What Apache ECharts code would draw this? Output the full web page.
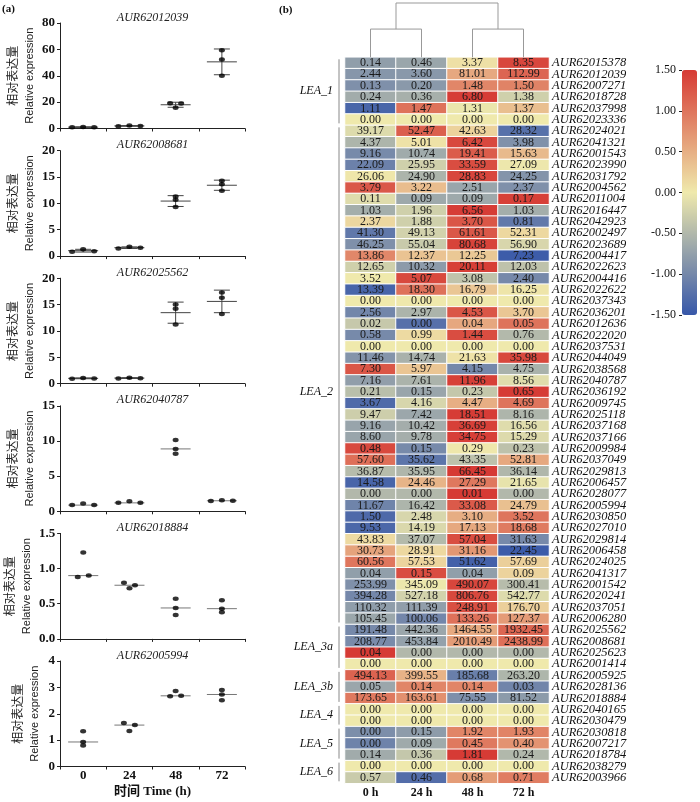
<!DOCTYPE html>
<html><head><meta charset="utf-8">
<script src="https://cdn.jsdelivr.net/npm/echarts@6/dist/echarts.min.js"></script>
<style>html,body{margin:0;padding:0;background:#fff}#c{width:700px;height:802px}</style>
</head><body><div id="c"></div>
<script>
// ---------- Panel (a): qRT-PCR replicate data ----------
const timeLabels = ['0', '24', '48', '72'];
const panelGenes = ['AUR62012039', 'AUR62008681', 'AUR62025562', 'AUR62040787', 'AUR62018884', 'AUR62005994'];
const panelYMax = [80, 20, 20, 15, 1.5, 4];
const panelYStep = [20, 5, 5, 5, 0.5, 1];
const panelYDecimals = [0, 0, 0, 0, 1, 0];
const panelCentre = ['mean', 'mean', 'mean', 'median', 'median', 'median'];
const rep_AUR62012039 = [[1.0, 1.2, 0.9], [1.8, 2.2, 1.9], [19.2, 15.8, 19.0], [59.3, 52.3, 40.0]];
const rep_AUR62008681 = [[0.82, 1.32, 0.94], [1.45, 1.76, 1.57], [11.3, 10.7, 9.3], [14.3, 13.6, 12.4]];
const rep_AUR62025562 = [[0.95, 1.1, 1.0], [1.0, 1.15, 1.05], [15.0, 14.2, 11.2], [17.3, 16.3, 13.2]];
const rep_AUR62040787 = [[0.88, 1.12, 0.88], [1.2, 1.42, 1.2], [10.14, 8.87, 8.2], [1.48, 1.58, 1.5]];
const rep_AUR62018884 = [[0.88, 1.23, 0.90], [0.80, 0.72, 0.763], [0.57, 0.44, 0.34], [0.55, 0.43, 0.38]];
const rep_AUR62005994 = [[1.34, 0.93, 0.80], [1.65, 1.35, 1.57], [2.66, 2.86, 2.68], [2.9, 2.73, 2.51]];

// ---------- Panel (b): heatmap data ----------
const heatCols = ['0 h', '24 h', '48 h', '72 h'];
const heatGenes = ['AUR62015378','AUR62012039','AUR62007271','AUR62018728','AUR62037998','AUR62023336','AUR62024021','AUR62041321','AUR62001543','AUR62023990','AUR62031792','AUR62004562','AUR62011004','AUR62016447','AUR62042923','AUR62002497','AUR62023689','AUR62004417','AUR62022623','AUR62004416','AUR62022622','AUR62037343','AUR62036201','AUR62012636','AUR62022020','AUR62037531','AUR62044049','AUR62038568','AUR62040787','AUR62036192','AUR62009745','AUR62025118','AUR62037168','AUR62037166','AUR62009984','AUR62037049','AUR62029813','AUR62006457','AUR62028077','AUR62005994','AUR62030850','AUR62027010','AUR62029814','AUR62006458','AUR62024025','AUR62041317','AUR62001542','AUR62020241','AUR62037051','AUR62006280','AUR62025562','AUR62008681','AUR62025623','AUR62001414','AUR62005925','AUR62028136','AUR62018884','AUR62040165','AUR62030479','AUR62030818','AUR62007217','AUR62018784','AUR62038279','AUR62003966'];
const expr0h = [0.14,2.44,0.13,0.24,1.11,0.00, 39.17,4.37,9.16,22.09,26.06,3.79,0.11,1.03,2.37,41.30,46.25,13.86,12.65,3.52,13.39,0.00,2.56,0.02,0.58,0.00,11.46,7.30,7.16,0.21,3.67,9.47,9.16,8.60,0.48,57.60,36.87,14.58,0.00,11.67,1.50,9.53,43.83,30.73,60.56,0.04,253.99,394.28,110.32,105.45, 191.48,208.77,0.04,0.00, 494.13,0.05,173.65, 0.00,0.00, 0.00,0.00,0.14, 0.00,0.57];
const expr24h = [0.46,3.60,0.20,0.36,1.47,0.00, 52.47,5.01,10.74,25.95,24.90,3.22,0.09,1.96,1.88,49.13,55.04,12.37,10.32,5.07,18.30,0.00,2.97,0.00,0.99,0.00,14.74,5.97,7.61,0.15,4.16,7.42,10.42,9.78,0.15,35.62,35.95,24.46,0.00,16.42,2.48,14.19,37.07,28.91,57.53,0.15,345.09,527.18,111.39,100.06, 442.36,453.84,0.00,0.00, 399.55,0.14,163.61, 0.00,0.00, 0.15,0.09,0.36, 0.00,0.46];
const expr48h = [3.37,81.01,1.48,6.80,1.31,0.00, 42.63,6.42,19.41,33.59,28.83,2.51,0.09,6.56,3.70,61.61,80.68,12.25,20.11,3.08,16.79,0.00,4.53,0.04,1.44,0.00,21.63,4.15,11.96,0.23,4.47,18.51,36.69,34.75,0.29,43.35,66.45,27.29,0.01,33.08,3.10,17.13,57.04,31.16,51.62,0.04,490.07,806.76,248.91,133.26, 1464.55,2010.49,0.00,0.00, 185.68,0.14,75.55, 0.00,0.00, 1.92,0.45,1.81, 0.00,0.68];
const expr72h = [8.35,112.99,1.50,1.38,1.37,0.00, 28.32,3.98,15.63,27.09,24.25,2.37,0.17,1.03,0.81,52.31,56.90,7.23,12.03,2.40,16.25,0.00,3.70,0.05,0.76,0.00,35.98,4.75,8.56,0.65,4.69,8.16,16.56,15.29,0.23,52.81,36.14,21.65,0.00,24.79,3.52,18.68,31.63,22.45,57.69,0.09,300.41,542.77,176.70,127.37, 1932.45,2438.99,0.00,0.00, 263.20,0.03,81.52, 0.00,0.00, 1.93,0.40,0.24, 0.00,0.71];
const leaNames = ['LEA_1', 'LEA_2', 'LEA_3a', 'LEA_3b', 'LEA_4', 'LEA_5', 'LEA_6'];
const leaFirstRow = [0, 6, 50, 54, 57, 59, 62];
const leaLastRow = [5, 49, 53, 56, 58, 61, 63];
const leaLabelRow = [2.5, 29, 51.5, 55, 57.5, 60, 62.5];
const colorTicks = [-1.5, 1.5, 0.5];          // min, max, step
const dendroMerges = [[0, 1, 0.52], [2, 3, 0.52], [4, 5, 1.0]]; // child A, child B, height

// ---------- helpers ----------
const SERIF = '"Liberation Serif","Times New Roman",serif';
const CJK = '"Noto Sans CJK SC",sans-serif';
const mean = a => a.reduce((s, v) => s + v, 0) / a.length;
const sdev = a => { const m = mean(a); return Math.sqrt(a.reduce((s, v) => s + (v - m) * (v - m), 0) / (a.length - 1)); };
const median = a => { const s = a.slice().sort((x, y) => x - y); return s[Math.floor(s.length / 2)]; };
function swarmSlots(vals, pxPerUnit, thr) {
  const idx = vals.map((v, i) => i).sort((a, b) => vals[a] - vals[b]);
  const clusters = []; let cur = [idx[0]];
  for (let k = 1; k < idx.length; k++) {
    if ((vals[idx[k]] - vals[idx[k - 1]]) * pxPerUnit < thr) cur.push(idx[k]);
    else { clusters.push(cur); cur = [idx[k]]; }
  }
  clusters.push(cur);
  const slots = new Array(vals.length).fill(0);
  clusters.forEach(cl => { cl.sort((a, b) => a - b); const n = cl.length; cl.forEach((id, j) => slots[id] = j - (n - 1) / 2); });
  return slots;
}

const grids = [], xAxes = [], yAxes = [], series = [], graphics = [];
const reps = [rep_AUR62012039, rep_AUR62008681, rep_AUR62025562, rep_AUR62040787, rep_AUR62018884, rep_AUR62005994];
const PL = 60, PW = 185, PH = 105.5, PT0 = 23, PSTEP = 127.6, JIT = 11;

function renderSummary(params, api) {
  const c = api.value(0), m = api.value(1), lo = api.value(2), hi = api.value(3), err = api.value(4);
  const p = api.coord([c, m]);
  const st = { stroke: err ? '#444' : '#777', lineWidth: 1 };
  const ch = [{ type: 'line', shape: { x1: p[0] - 15, y1: p[1], x2: p[0] + 15, y2: p[1] }, style: st }];
  if (err) {
    const a = api.coord([c, hi]), b = api.coord([c, lo]);
    ch.push({ type: 'line', shape: { x1: a[0], y1: a[1], x2: b[0], y2: b[1] }, style: st });
    ch.push({ type: 'line', shape: { x1: a[0] - 8, y1: a[1], x2: a[0] + 8, y2: a[1] }, style: st });
    ch.push({ type: 'line', shape: { x1: b[0] - 8, y1: b[1], x2: b[0] + 8, y2: b[1] }, style: st });
  }
  return { type: 'group', children: ch };
}

panelGenes.forEach((g, i) => {
  const top = PT0 + i * PSTEP;
  const last = i === panelGenes.length - 1;
  grids.push({ left: PL, top: top, width: PW, height: PH });
  xAxes.push({
    type: 'category', gridIndex: i, data: timeLabels, boundaryGap: true,
    axisLine: { lineStyle: { color: '#222', width: 1 } },
    axisTick: { show: true, length: 3, lineStyle: { color: '#222' } },
    axisLabel: { show: last, margin: 3, fontFamily: SERIF, fontWeight: 'bold', fontSize: 13, color: '#111' },
    name: last ? '时间 Time (h)' : '', nameLocation: 'middle', nameGap: 19,
    nameTextStyle: { fontFamily: SERIF + ',' + CJK, fontWeight: 'bold', fontSize: 13, color: '#111' }
  });
  yAxes.push({
    type: 'value', gridIndex: i, min: 0, max: panelYMax[i], interval: panelYStep[i],
    splitLine: { show: false },
    axisLine: { show: true, lineStyle: { color: '#222', width: 1 } },
    axisTick: { show: true, length: 3, lineStyle: { color: '#222' } },
    axisLabel: { margin: 5, fontFamily: SERIF, fontWeight: 'bold', fontSize: 13, color: '#111',
      formatter: v => v.toFixed(panelYDecimals[i]) },
    name: '{cn|相对表达量}\n{en|Relative expression}', nameLocation: 'middle', nameRotate: 90, nameGap: 17,
    nameTextStyle: { lineHeight: 17, rich: {
      cn: { fontFamily: CJK, fontSize: 12, color: '#222', lineHeight: 17 },
      en: { fontFamily: '"Liberation Sans",Arial,sans-serif', fontSize: 11, color: '#222', lineHeight: 17 } } }
  });
  graphics.push({ type: 'text', x: PL + PW / 2, y: top - 5.5,
    style: { text: g, textAlign: 'center', textVerticalAlign: 'middle', fontFamily: SERIF, fontStyle: 'italic', fontSize: 12, fill: '#222' } });
  const ppu = PH / panelYMax[i];
  const pts = [], summ = [];
  reps[i].forEach((vals, c) => {
    const slots = swarmSlots(vals, ppu, 3);
    vals.forEach((v, k) => pts.push({ value: [c, v], symbolOffset: [slots[k] * JIT, 0] }));
    const isMean = panelCentre[i] === 'mean';
    const m = isMean ? mean(vals) : median(vals);
    const s = sdev(vals);
    summ.push([c, m, m - s, m + s, isMean ? 1 : 0]);
  });
  series.push({ type: 'custom', xAxisIndex: i, yAxisIndex: i, data: summ, renderItem: renderSummary, z: 2, silent: true, clip: false });
  series.push({ type: 'scatter', xAxisIndex: i, yAxisIndex: i, data: pts, symbol: 'circle', symbolSize: [6, 4.5],
    itemStyle: { color: '#000' }, z: 3, silent: true });
});

// ---------- heatmap ----------
const HG = grids.length;
const HL = 345, HW = 204, HT = 57.3, HH = 726;
grids.push({ left: HL, top: HT, width: HW, height: HH });
xAxes.push({ type: 'category', gridIndex: HG, data: heatCols, position: 'bottom',
  axisLine: { show: false }, axisTick: { show: false }, splitLine: { show: false },
  axisLabel: { margin: 4, fontFamily: SERIF, fontWeight: 'bold', fontSize: 12, color: '#111' } });
yAxes.push({ type: 'category', gridIndex: HG, data: heatGenes, inverse: true, position: 'right',
  axisLine: { show: false }, axisTick: { show: false }, splitLine: { show: false },
  axisLabel: { interval: 0, margin: 3, fontFamily: SERIF, fontStyle: 'italic', fontSize: 12.5, color: '#111' } });
const cols = [expr0h, expr24h, expr48h, expr72h];
const heatData = [];
heatGenes.forEach((g, r) => {
  const vals = cols.map(a => a[r]);
  const m = mean(vals), s = sdev(vals);
  vals.forEach((v, c) => heatData.push([c, r, s > 0 ? (v - m) / s : 0, v]));
});
const heatIdx = series.length;
series.push({ type: 'heatmap', xAxisIndex: HG, yAxisIndex: HG, data: heatData,
  itemStyle: { borderColor: '#fff', borderWidth: 1 },
  label: { show: true, formatter: p => p.value[3].toFixed(2), fontFamily: SERIF, fontSize: 12, color: '#1a1a1a' },
  emphasis: { disabled: true }, silent: true });

// group brackets + labels
series.push({ type: 'custom', xAxisIndex: HG, yAxisIndex: HG, clip: false, silent: true,
  data: leaNames.map((n, k) => [0, leaFirstRow[k], leaLastRow[k], leaLabelRow[k]]),
  renderItem: (params, api) => {
    const sz = api.size([1, 1]);
    const a = api.coord([0, api.value(1)]), b = api.coord([0, api.value(2)]);
    const x = a[0] - sz[0] / 2 - 6;
    const y1 = a[1] - sz[1] / 2 + 2, y2 = b[1] + sz[1] / 2 - 2;
    const lbl = api.value(3);
    const ly = api.coord([0, Math.floor(lbl)])[1] + (lbl - Math.floor(lbl)) * sz[1];
    return { type: 'group', children: [
      { type: 'line', shape: { x1: x, y1: y1, x2: x, y2: y2 }, style: { stroke: '#888', lineWidth: 1 } },
      { type: 'text', x: x - 6, y: ly, style: { text: leaNames[params.dataIndex], textAlign: 'right', textVerticalAlign: 'middle',
        fontFamily: SERIF, fontStyle: 'italic', fontSize: 12, fill: '#111' } } ] };
  } });

// ---------- dendrogram ----------
const DG = grids.length;
grids.push({ left: HL, top: 3, width: HW, height: HT - 3 });
xAxes.push({ type: 'value', gridIndex: DG, min: -0.5, max: heatCols.length - 0.5, show: false });
yAxes.push({ type: 'value', gridIndex: DG, min: 0, max: 1, show: false });
const nodeX = heatCols.map((c, i) => i), nodeH = heatCols.map(() => 0);
const dendroData = dendroMerges.map(mg => {
  const d = [nodeX[mg[0]], nodeH[mg[0]], nodeX[mg[1]], nodeH[mg[1]], mg[2]];
  nodeX.push((nodeX[mg[0]] + nodeX[mg[1]]) / 2); nodeH.push(mg[2]);
  return d;
});
series.push({ type: 'custom', xAxisIndex: DG, yAxisIndex: DG, clip: false, silent: true, data: dendroData,
  renderItem: (params, api) => {
    const a0 = api.coord([api.value(0), api.value(1)]), a1 = api.coord([api.value(0), api.value(4)]);
    const b0 = api.coord([api.value(2), api.value(3)]), b1 = api.coord([api.value(2), api.value(4)]);
    return { type: 'polyline', shape: { points: [a0, a1, b1, b0] }, style: { stroke: '#999', lineWidth: 1, fill: null } };
  } });

// ---------- colour bar axis ----------
const CG = grids.length;
const CBL = 682, CBT = 70, CBW = 15, CBH = 245;
grids.push({ left: CBL, top: CBT, width: CBW, height: CBH });
xAxes.push({ type: 'value', gridIndex: CG, show: false, min: 0, max: 1 });
yAxes.push({ type: 'value', gridIndex: CG, min: colorTicks[0], max: colorTicks[1], interval: colorTicks[2],
  axisLine: { show: false }, splitLine: { show: false },
  axisTick: { show: true, length: 3, lineStyle: { color: '#222' } },
  axisLabel: { margin: 6, fontFamily: SERIF, fontSize: 12, color: '#111', formatter: v => v.toFixed(2) } });

graphics.push({ type: 'text', x: 2, y: 9, style: { text: '(a)', textVerticalAlign: 'middle', fontFamily: SERIF, fontWeight: 'bold', fontSize: 11, fill: '#111' } });
graphics.push({ type: 'text', x: 279, y: 10, style: { text: '(b)', textVerticalAlign: 'middle', fontFamily: SERIF, fontWeight: 'bold', fontSize: 11, fill: '#111' } });

const chart = echarts.init(document.getElementById('c'), null, { renderer: 'canvas' });
chart.setOption({
  backgroundColor: '#fff',
  animation: false,
  grid: grids, xAxis: xAxes, yAxis: yAxes, series: series,
  visualMap: [{ type: 'continuous', seriesIndex: heatIdx, dimension: 2, min: colorTicks[0], max: colorTicks[1],
    inRange: { color: ['#3757a9', '#efe9ac', '#d63a34'] }, calculable: false, show: true,
    left: CBL, top: CBT, itemWidth: CBW, itemHeight: CBH, padding: 0, text: null, orient: 'vertical' }],
  graphic: graphics
});
</script></body></html>
